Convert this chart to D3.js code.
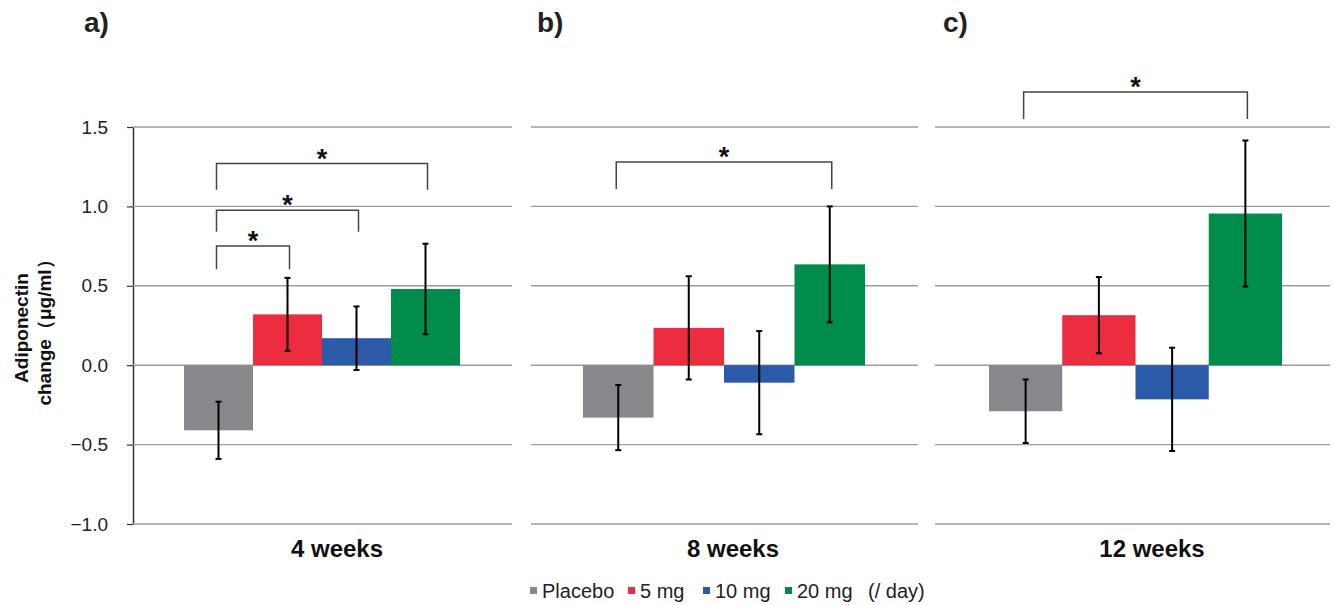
<!DOCTYPE html>
<html>
<head>
<meta charset="utf-8">
<script src="https://cdn.jsdelivr.net/npm/d3@7"></script>
<style>
  html, body { margin: 0; padding: 0; background: #fff; }
  svg { display: block; }
  text { font-family: "Liberation Sans", Arial, Helvetica, sans-serif; }
</style>
</head>
<body>
<svg id="chart" width="1335" height="605"></svg>
<script>
// ---------------- DATA ----------------
const groups = ["Placebo", "5 mg", "10 mg", "20 mg"];
const weekLabels = ["4 weeks", "8 weeks", "12 weeks"];
const panelLabels = ["a)", "b)", "c)"];

// mean change in adiponectin (µg/ml) per group
const mean4w  = [-0.41, 0.32, 0.17, 0.48];
const mean8w  = [-0.33, 0.235, -0.11, 0.635];
const mean12w = [-0.29, 0.315, -0.215, 0.955];

// error bar half-length (µg/ml)
const err4w  = [0.18, 0.23, 0.20, 0.285];
const err8w  = [0.205, 0.325, 0.325, 0.365];
const err12w = [0.20, 0.24, 0.325, 0.46];

const yTicks = [-1.0, -0.5, 0.0, 0.5, 1.0, 1.5];
const yDomain = [-1.0, 1.5];

// significance brackets: panel index, compared groups, bracket height & leg end (µg/ml)
const sigPanel = [0, 0, 0, 1, 2];
const sigFrom  = ["Placebo", "Placebo", "Placebo", "Placebo", "Placebo"];
const sigTo    = ["5 mg", "10 mg", "20 mg", "20 mg", "20 mg"];
const sigTop   = [0.75, 0.975, 1.27, 1.28, 1.72];
const sigLeg   = [0.605, 0.84, 1.105, 1.11, 1.55];
const sigMark  = ["*", "*", "*", "*", "*"];

const legendSuffix = "(/ day)";

// ---------------- STYLE / LAYOUT ----------------
const colors = ["#87888c", "#ec2d3f", "#2b5ba8", "#008c4b"];
const panelGrid = [[133, 512], [531, 918], [935, 1330]];
const panelBars = [[184, 460], [583, 865], [989, 1282]];
const weekLabelX = [337, 733, 1152];
const panelLabelX = [84, 537, 943];

const means = [mean4w, mean8w, mean12w];
const errs = [err4w, err8w, err12w];

const svg = d3.select("#chart");
const y = d3.scaleLinear().domain(yDomain).range([524, 127]);

// Y axis (panel a only) with labels
const yAxis = d3.axisLeft(y).tickValues(yTicks).tickFormat(d3.format(".1f")).tickSize(6).tickSizeOuter(0);
const gAxis = svg.append("g").attr("transform", `translate(${panelGrid[0][0]},0)`).call(yAxis);
gAxis.select(".domain").attr("stroke", "#333").attr("stroke-width", 1.5);
gAxis.selectAll(".tick line").attr("stroke", "#333").attr("stroke-width", 1.2);
gAxis.selectAll(".tick text")
  .attr("x", -25)
  .attr("font-size", 19)
  .attr("fill", "#222")
  .style("font-family", "'Liberation Sans', Arial, sans-serif");

// Y axis title
const yTitle = svg.append("text")
  .attr("transform", "translate(0,328) rotate(-90)")
  .attr("text-anchor", "middle")
  .attr("font-weight", "bold")
  .attr("font-size", 19)
  .attr("fill", "#111");
yTitle.append("tspan").attr("x", 0).attr("y", 28).text("Adiponectin");
yTitle.append("tspan").attr("x", 0).attr("y", 51).text("change（μg/ml）");

panelGrid.forEach((pg, p) => {
  const g = svg.append("g");
  const x = d3.scaleBand().domain(groups).range(panelBars[p]).paddingInner(0).paddingOuter(0);

  // gridlines
  g.selectAll("line.grid").data(yTicks).join("line")
    .attr("class", "grid")
    .attr("x1", pg[0]).attr("x2", pg[1])
    .attr("y1", d => y(d)).attr("y2", d => y(d))
    .attr("stroke", "#9c9c9c").attr("stroke-width", 1.4);

  const rows = groups.map((grp, i) => ({ grp, i, m: means[p][i], e: errs[p][i] }));

  // bars
  g.selectAll("rect.bar").data(rows).join("rect")
    .attr("class", "bar")
    .attr("x", d => x(d.grp))
    .attr("width", x.bandwidth())
    .attr("y", d => Math.min(y(d.m), y(0)))
    .attr("height", d => Math.abs(y(d.m) - y(0)))
    .attr("fill", d => colors[d.i]);

  // error bars
  const eb = g.selectAll("g.err").data(rows).join("g").attr("class", "err");
  const cx = d => x(d.grp) + x.bandwidth() / 2;
  eb.append("line")
    .attr("x1", cx).attr("x2", cx)
    .attr("y1", d => y(d.m + d.e)).attr("y2", d => y(d.m - d.e))
    .attr("stroke", "#000").attr("stroke-width", 2);
  eb.append("line")
    .attr("x1", d => cx(d) - 3).attr("x2", d => cx(d) + 3)
    .attr("y1", d => y(d.m + d.e)).attr("y2", d => y(d.m + d.e))
    .attr("stroke", "#000").attr("stroke-width", 2);
  eb.append("line")
    .attr("x1", d => cx(d) - 3).attr("x2", d => cx(d) + 3)
    .attr("y1", d => y(d.m - d.e)).attr("y2", d => y(d.m - d.e))
    .attr("stroke", "#000").attr("stroke-width", 2);

  // significance brackets
  sigPanel.forEach((sp, k) => {
    if (sp !== p) return;
    const x1 = x(sigFrom[k]) + x.bandwidth() / 2 - 2;
    const x2 = x(sigTo[k]) + x.bandwidth() / 2 + 2;
    g.append("path")
      .attr("d", `M${x1},${y(sigLeg[k])}V${y(sigTop[k])}H${x2}V${y(sigLeg[k])}`)
      .attr("fill", "none").attr("stroke", "#444").attr("stroke-width", 1.5);
    g.append("text")
      .attr("x", (x1 + x2) / 2)
      .attr("y", y(sigTop[k]) + 4)
      .attr("text-anchor", "middle")
      .attr("font-weight", "bold")
      .attr("font-size", 27)
      .attr("fill", "#111")
      .text(sigMark[k]);
  });

  // week label
  svg.append("text")
    .attr("x", weekLabelX[p]).attr("y", 557)
    .attr("text-anchor", "middle")
    .attr("font-weight", "bold").attr("font-size", 24)
    .attr("fill", "#111")
    .text(weekLabels[p]);

  // panel label
  svg.append("text")
    .attr("x", panelLabelX[p]).attr("y", 32)
    .attr("font-weight", "bold").attr("font-size", 28)
    .attr("fill", "#222")
    .text(panelLabels[p]);
});

// legend
const legendX = [530, 628, 703, 785];
const lg = svg.append("g");
groups.forEach((grp, i) => {
  lg.append("rect").attr("x", legendX[i]).attr("y", 587).attr("width", 7).attr("height", 7).attr("fill", colors[i]);
  lg.append("text").attr("x", legendX[i] + 12).attr("y", 598)
    .attr("font-size", 20).attr("fill", "#222").text(grp);
});
lg.append("text").attr("x", 868).attr("y", 598).attr("font-size", 20).attr("fill", "#222").text(legendSuffix);
</script>
</body>
</html>
